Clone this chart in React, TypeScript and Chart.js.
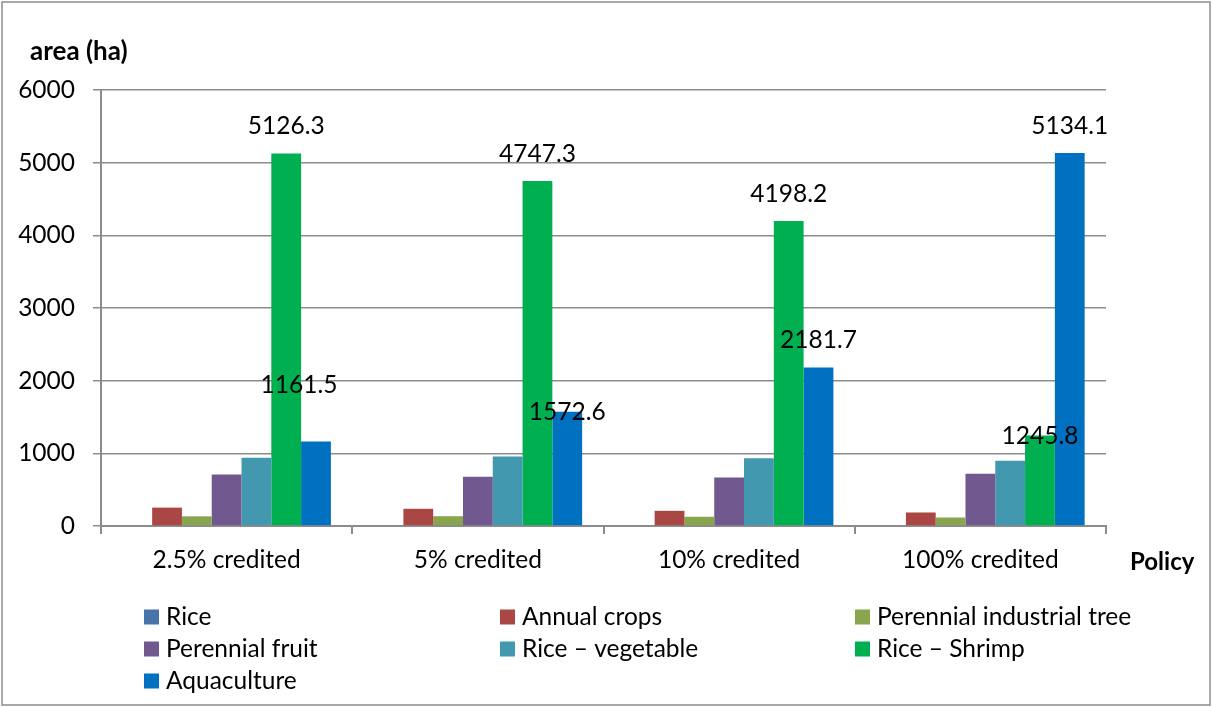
import React, { useEffect, useRef } from "react";
import { Chart, registerables } from "chart.js";

Chart.register(...registerables);

// ---- data ----
const categories = ["2.5% credited", "5% credited", "10% credited", "100% credited"];
const seriesNames = [
  "Rice",
  "Annual crops",
  "Perennial industrial tree",
  "Perennial fruit",
  "Rice – vegetable",
  "Rice – Shrimp",
  "Aquaculture",
];
const rice = [0, 0, 0, 0];
const annualCrops = [253, 237, 209, 186];
const perennialIndustrialTree = [133, 135, 127, 117];
const perennialFruit = [707, 677, 667, 718];
const riceVegetable = [940, 956, 933, 897];
const riceShrimp = [5126.3, 4747.3, 4198.2, 1245.8];
const aquaculture = [1161.5, 1572.6, 2181.7, 5134.1];
const yMin = 0;
const yMax = 6000;
const yStep = 1000;

// ---- styles ----
const colors = ["#4674AA", "#AA4643", "#89A54E", "#71588F", "#4198AF", "#00B050", "#0070C0"];
const FONT = "Lato, 'Open Sans', sans-serif";
const FS = 24.5;
const AXIS_GRAY = "#8c8c8c";
// which series carry value labels, and small label nudges (px, relative to the bar top)
const labelledSeries = [5, 6];
const labelNudges: Record<number, [number, number][]> = {
  5: [[0, 0], [0, 0], [0, 0], [0, 28]],
  6: [[-17, -30], [0, 27], [0, 0], [0, 0]],
};

const overlayPlugin = {
  id: "overlay",
  afterDatasetsDraw(chart: any) {
    const ctx = chart.ctx;
    ctx.save();
    ctx.fillStyle = "#000";
    ctx.font = `${FS}px ${FONT}`;
    ctx.textAlign = "center";
    ctx.textBaseline = "middle";
    labelledSeries.forEach((di) => {
      const meta = chart.getDatasetMeta(di);
      const data = chart.data.datasets[di].data as number[];
      meta.data.forEach((bar: any, i: number) => {
        const n = labelNudges[di]?.[i] || [0, 0];
        ctx.fillText(data[i].toFixed(1), bar.x + n[0], bar.y - 27 + n[1]);
      });
    });
    ctx.restore();
  },
  afterDraw(chart: any) {
    const ctx = chart.ctx;
    ctx.save();
    // axis titles
    ctx.fillStyle = "#000";
    ctx.textBaseline = "middle";
    ctx.textAlign = "left";
    ctx.font = `bold 26px ${FONT}`;
    ctx.fillText("area (ha)", 30, 52);
    ctx.font = `bold 24px ${FONT}`;
    ctx.fillText("Policy", 1130, 562);
    // legend
    ctx.font = `${FS}px ${FONT}`;
    const colX = [144, 500, 855];
    const rowY = [617, 649, 681];
    chart.data.datasets.forEach((ds: any, i: number) => {
      const x = colX[i % 3];
      const y = rowY[Math.floor(i / 3)];
      ctx.fillStyle = ds.backgroundColor;
      ctx.fillRect(x, y - 7.5, 15, 15);
      ctx.fillStyle = "#000";
      ctx.fillText(ds.label, x + 22, y);
    });
    // outer border
    ctx.strokeStyle = AXIS_GRAY;
    ctx.lineWidth = 1.5;
    ctx.strokeRect(2, 2, chart.width - 4, chart.height - 4);
    ctx.restore();
  },
};

export default function App() {
  const ref = useRef<HTMLCanvasElement>(null);
  useEffect(() => {
    document.body.style.margin = "0";
    const series = [rice, annualCrops, perennialIndustrialTree, perennialFruit, riceVegetable, riceShrimp, aquaculture];
    const chart = new Chart(ref.current!, {
      type: "bar",
      data: {
        labels: categories,
        datasets: series.map((d, i) => ({
          label: seriesNames[i],
          data: d,
          backgroundColor: colors[i],
          borderWidth: 0,
          categoryPercentage: 0.83,
          barPercentage: 1,
        })),
      },
      options: {
        responsive: false,
        animation: false,
        devicePixelRatio: 1,
        layout: { padding: { left: 0, right: 106, top: 90, bottom: 121 } },
        plugins: {
          legend: { display: false },
          tooltip: { enabled: false },
          title: { display: false },
        },
        scales: {
          x: {
            offset: true,
            grid: {
              display: true,
              drawOnChartArea: false,
              drawTicks: true,
              tickLength: 8,
              color: AXIS_GRAY,
              lineWidth: 2,
              offset: true,
            },
            border: { display: true, color: AXIS_GRAY, width: 2 },
            ticks: { color: "#000", font: { family: FONT, size: FS }, padding: 11, maxRotation: 0 },
            afterFit: (s: any) => {
              s.height = 60;
            },
          },
          y: {
            min: yMin,
            max: yMax,
            ticks: {
              stepSize: yStep,
              color: "#000",
              font: { family: FONT, size: FS },
              padding: 18,
              callback: (v: any) => String(v),
            },
            grid: { color: AXIS_GRAY, lineWidth: 1.5, tickLength: 8, drawTicks: true },
            border: { display: true, color: AXIS_GRAY, width: 2 },
            afterFit: (s: any) => {
              s.width = 101;
            },
          },
        },
      },
      plugins: [overlayPlugin],
    });
    return () => chart.destroy();
  }, []);
  return (
    <div style={{ width: 1212, height: 707, background: "#fff" }}>
      <canvas ref={ref} width={1212} height={707} style={{ display: "block" }} />
    </div>
  );
}
